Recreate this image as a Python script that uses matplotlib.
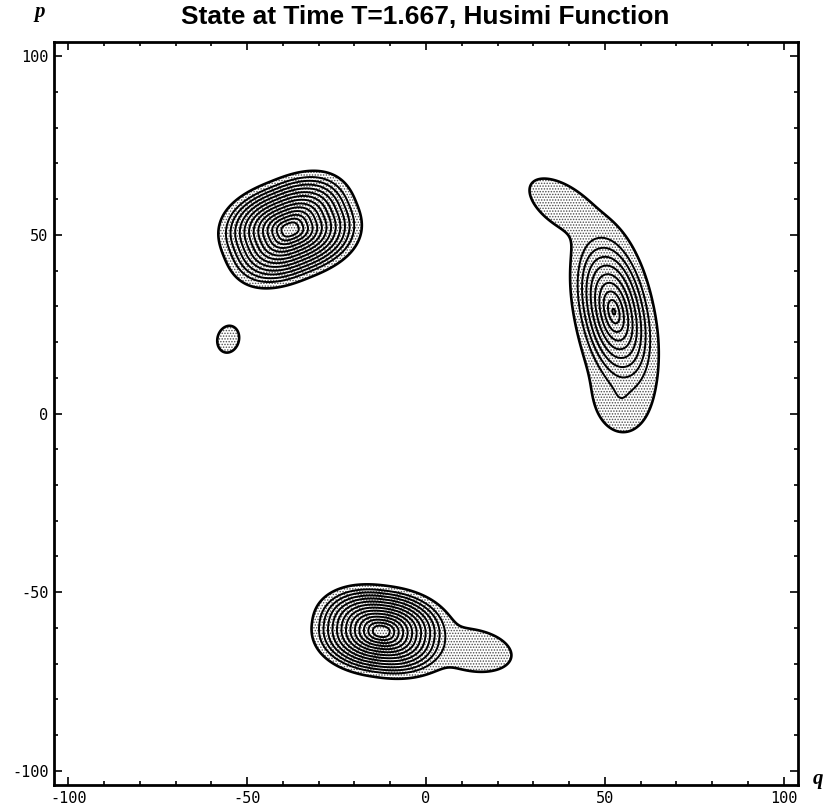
import numpy as np
import matplotlib
matplotlib.use("Agg")
import matplotlib.pyplot as plt

# ---- data: components of the Husimi distribution ----
# each component is a cone (in ring units) with centre, height, footprint semi-axes, tilt, shape exponent
comp_q     = [-38.0, -55.3, 52.5, 54.5, 38.5, -12.5, 13.0]
comp_p     = [ 51.5,  20.8, 28.5,  5.5, 58.0, -61.0, -66.3]
comp_h     = [ 13.2,   1.0,  8.5,  1.3,  1.25,  13.2,   1.25]
comp_ra    = [ 20.0,   3.8, 24.5, 10.5, 11.0,  19.5,  11.0]
comp_rb    = [ 14.5,   3.0, 11.0,  7.5,  5.5,  12.8,   5.8]
comp_ang   = [ 22.0,  75.0, 102.0, 95.0, -35.0, -8.0, -10.0]
comp_shape = [ 2.6,   2.0,  2.1,  2.0,  2.0,   2.3,   2.0]

contour_levels = [0.0] + [1.4 + 0.85 * k for k in range(13)]

x_ticks = [-100, -50, 0, 50, 100]
y_ticks = [-100, -50, 0, 50, 100]
x_minor = list(range(-100, 101, 10))
y_minor = list(range(-100, 101, 10))
title = "State at Time T=1.667, Husimi Function"

# ---- build field ----
lim = 104.0
g = np.linspace(-lim, lim, 700)
Q, P = np.meshgrid(g, g)
acc = np.zeros_like(Q)
for q0, p0, h, ra, rb, ang, n in zip(comp_q, comp_p, comp_h, comp_ra, comp_rb, comp_ang, comp_shape):
    t = np.deg2rad(ang)
    dq, dp = Q - q0, P - p0
    u = dq * np.cos(t) + dp * np.sin(t)
    v = -dq * np.sin(t) + dp * np.cos(t)
    rho = (np.abs(u / ra) ** n + np.abs(v / rb) ** n) ** (1.0 / n)
    acc += np.exp(h * (1.0 - rho))
G = np.log(acc)

plt.rcParams['hatch.color'] = '0.3'
plt.rcParams['hatch.linewidth'] = 0.7

fig = plt.figure(figsize=(8.33, 8.08), dpi=100)
ax = fig.add_axes([54/833, 1-785/808, (798-54)/833, (785-42)/808])

ax.contourf(Q, P, G, levels=[0.0, 1e3], colors='none', hatches=['......'])
ax.contour(Q, P, G, levels=contour_levels[:1], colors='black', linewidths=1.9)
ax.contour(Q, P, G, levels=contour_levels[1:], colors='black', linewidths=1.4)

ax.set_xlim(-lim, lim)
ax.set_ylim(-lim, lim)
ax.set_xticks(x_ticks)
ax.set_yticks(y_ticks)
ax.set_xticks(x_minor, minor=True)
ax.set_yticks(y_minor, minor=True)
ax.set_xticklabels([str(v) for v in x_ticks])
ax.set_yticklabels([str(v) for v in y_ticks])
ax.tick_params(which='both', direction='in', top=True, right=True, width=1.2)
ax.tick_params(which='major', length=6, labelsize=11, pad=4)
ax.tick_params(which='minor', length=3)
for lab in ax.get_xticklabels() + ax.get_yticklabels():
    lab.set_family('DejaVu Sans Mono')
for s in ax.spines.values():
    s.set_linewidth(2.0)

t = fig.text(425/833, 1-17/808, title, ha='center', va='center',
             fontweight='bold', family='Liberation Sans', fontsize=16)
fig.canvas.draw()
w = t.get_window_extent().width
t.set_fontsize(16 * 487.0 / w)

fig.text(40/833, 1-12/808, 'p', ha='center', va='center', family='Liberation Serif',
         fontweight='bold', fontstyle='italic', fontsize=15)
fig.text(818/833, 1-779/808, 'q', ha='center', va='center', family='Liberation Serif',
         fontweight='bold', fontstyle='italic', fontsize=15)

fig.savefig('out.png', dpi=100)
